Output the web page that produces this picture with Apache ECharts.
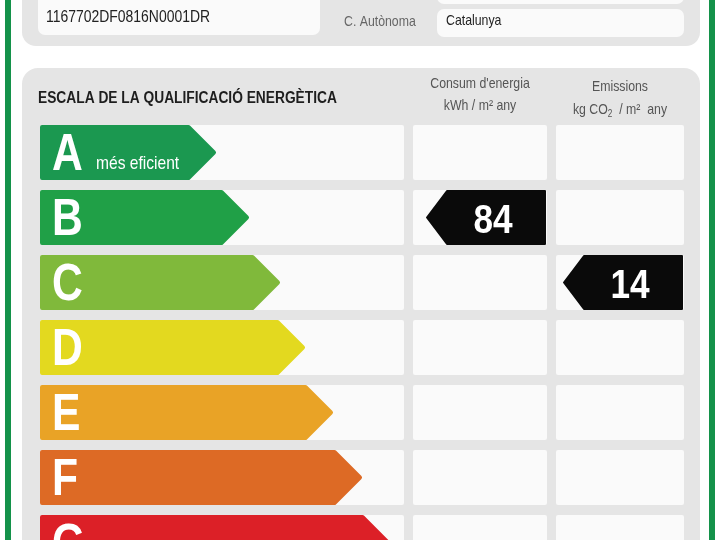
<!DOCTYPE html>
<html><head><meta charset="utf-8">
<script src="https://cdn.jsdelivr.net/npm/echarts@6/dist/echarts.min.js"></script>
<style>html,body{margin:0;padding:0;background:#fff}#c{width:720px;height:540px}</style>
</head><body><div id="c"></div>
<script>
// ---- data ----
const classes = ['A', 'B', 'C', 'D', 'E', 'F', 'G'];
const classColors = ['#1b9850', '#20a047', '#80b93b', '#e3d91f', '#e9a326', '#dd6a25', '#dc2027'];
const arrowReach = [176, 209, 240, 265, 293, 322, 350];
const classNotes = ['més eficient', '', '', '', '', '', ''];
const consumptionClass = 'B';
const consumptionValue = 84;
const emissionsClass = 'C';
const emissionsValue = 14;
const headerTitle = 'ESCALA DE LA QUALIFICACIÓ ENERGÈTICA';
const colConsumption = ["Consum d'energia", 'kWh / m² any'];
const colEmissions = ['Emissions', 'kg CO{s|2}  / m²  any'];
const refCode = '1167702DF0816N0001DR';
const regionLabel = 'C. Autònoma';
const regionValue = 'Catalunya';

const FONT = "'Liberation Sans',Arial,sans-serif";
const NARROW = 0.82;
const cellColor = '#fafafa';
const panelColor = '#e5e5e5';

// column extents in axis units
const cols = { bar: [0, 364], cons: [373, 507], emis: [516, 644] };

function T(x, y, text, font, fill, align, sx, extra) {
  return Object.assign({ type: 'text', x: x, y: y, scaleX: sx == null ? NARROW : sx,
    style: Object.assign({ x: 0, y: 0, text: text, font: font, fill: fill, align: align || 'left', verticalAlign: 'middle' }, extra || {}) });
}

const chart = echarts.init(document.getElementById('c'), null, { renderer: 'canvas' });

function rowItem(params, api) {
  const i = api.value(1);
  const reach = api.value(0);
  const band = api.size([0, 1])[1];
  const h = band - 10;
  const yc = api.coord([0, i])[1];
  const y0 = yc - h / 2, y1 = yc + h / 2;
  const X = v => api.coord([v, i])[0];
  const kids = [];
  [cols.bar, cols.cons, cols.emis].forEach(c => {
    kids.push({ type: 'rect', shape: { x: X(c[0]), y: y0, width: X(c[1]) - X(c[0]), height: h, r: 2 },
      style: { fill: cellColor } });
  });
  const xs = X(0) + 2, xt = X(reach) - 2, xb = xt - (h / 2 - 2);
  const color = classColors[i];
  kids.push({ type: 'polygon', shape: { points: [[xs, y0 + 2], [xb, y0 + 2], [xt, yc], [xb, y1 - 2], [xs, y1 - 2]] },
    style: { fill: color, stroke: color, lineWidth: 4, lineJoin: 'round' } });
  kids.push(T(X(0) + 12, yc + 3, classes[i], 'bold 52px ' + FONT, '#fff', 'left'));
  if (classNotes[i]) {
    kids.push(T(X(0) + 56, yc + 11, classNotes[i], '19px ' + FONT, '#fff', 'left'));
  }
  return { type: 'group', children: kids };
}

function markerItem(params, api) {
  const i = api.value(0);
  const val = api.value(1);
  const col = api.value(2) === 0 ? cols.cons : cols.emis;
  const band = api.size([0, 1])[1];
  const h = band - 10;
  const yc = api.coord([0, i])[1];
  const y0 = yc - h / 2 + 1, y1 = yc + h / 2 - 1;
  const xr = api.coord([col[1], i])[0] - 2;
  const xt = xr - 118;
  const xb = xt + 20;
  return { type: 'group', children: [
    { type: 'polygon', shape: { points: [[xt, yc], [xb, y0], [xr, y0], [xr, y1], [xb, y1]] },
      style: { fill: '#0a0a0a', stroke: '#0a0a0a', lineWidth: 2, lineJoin: 'round' } },
    T((xb + xr) / 2 - 3, yc + 4, String(val), 'bold 40px ' + FONT, '#fff', 'center', 0.88)
  ] };
}

const graphics = [
  // green frame
  { type: 'rect', shape: { x: 5, y: -5, width: 6, height: 560 }, style: { fill: '#14924a' }, z: 0 },
  { type: 'rect', shape: { x: 709, y: -5, width: 6, height: 560 }, style: { fill: '#14924a' }, z: 0 },
  // top panel
  { type: 'rect', shape: { x: 22, y: -30, width: 678, height: 76, r: 14 }, style: { fill: panelColor }, z: 0 },
  { type: 'rect', shape: { x: 38, y: -20, width: 282, height: 55, r: 7 }, style: { fill: cellColor }, z: 0 },
  { type: 'rect', shape: { x: 437, y: -30, width: 247, height: 34, r: 7 }, style: { fill: cellColor }, z: 0 },
  { type: 'rect', shape: { x: 437, y: 9, width: 247, height: 28, r: 7 }, style: { fill: cellColor }, z: 0 },
  Object.assign(T(46, 17, refCode, '17px ' + FONT, '#222'), { z: 1 }),
  Object.assign(T(344, 22, regionLabel, '15px ' + FONT, '#666'), { z: 1 }),
  Object.assign(T(446, 21, regionValue, '15px ' + FONT, '#222'), { z: 1 }),
  // main panel
  { type: 'rect', shape: { x: 22, y: 68, width: 678, height: 500, r: 16 }, style: { fill: panelColor }, z: 0 },
  Object.assign(T(38, 99, headerTitle, 'bold 16px ' + FONT, '#1e1e1e', 'left', 0.86), { z: 1 }),
  Object.assign(T(480, 84, colConsumption[0], '15px ' + FONT, '#555', 'center'), { z: 1 }),
  Object.assign(T(480, 106, colConsumption[1], '15px ' + FONT, '#555', 'center'), { z: 1 }),
  Object.assign(T(620, 87, colEmissions[0], '15px ' + FONT, '#555', 'center'), { z: 1 }),
  Object.assign(T(620, 110, colEmissions[1], '15px ' + FONT, '#555', 'center', NARROW,
    { rich: { s: { font: '10px ' + FONT, fill: '#555', padding: [9, 0, 0, 0] } } }), { z: 1 })
];

chart.setOption({
  animation: false,
  backgroundColor: '#ffffff',
  graphic: graphics,
  grid: { left: 40, top: 120, width: 644, height: 455, outerBoundsMode: 'none', containLabel: false },
  xAxis: { type: 'value', min: 0, max: 644, show: false },
  yAxis: { type: 'category', data: classes, inverse: true, show: false },
  series: [
    { type: 'custom', z: 5, renderItem: rowItem, encode: { x: 0, y: 1 },
      data: classes.map((c, i) => [arrowReach[i], i]), clip: false },
    { type: 'custom', z: 6, renderItem: markerItem, encode: { x: 1, y: 0 },
      data: [
        [classes.indexOf(consumptionClass), consumptionValue, 0],
        [classes.indexOf(emissionsClass), emissionsValue, 1]
      ], clip: false }
  ]
});
</script></body></html>
